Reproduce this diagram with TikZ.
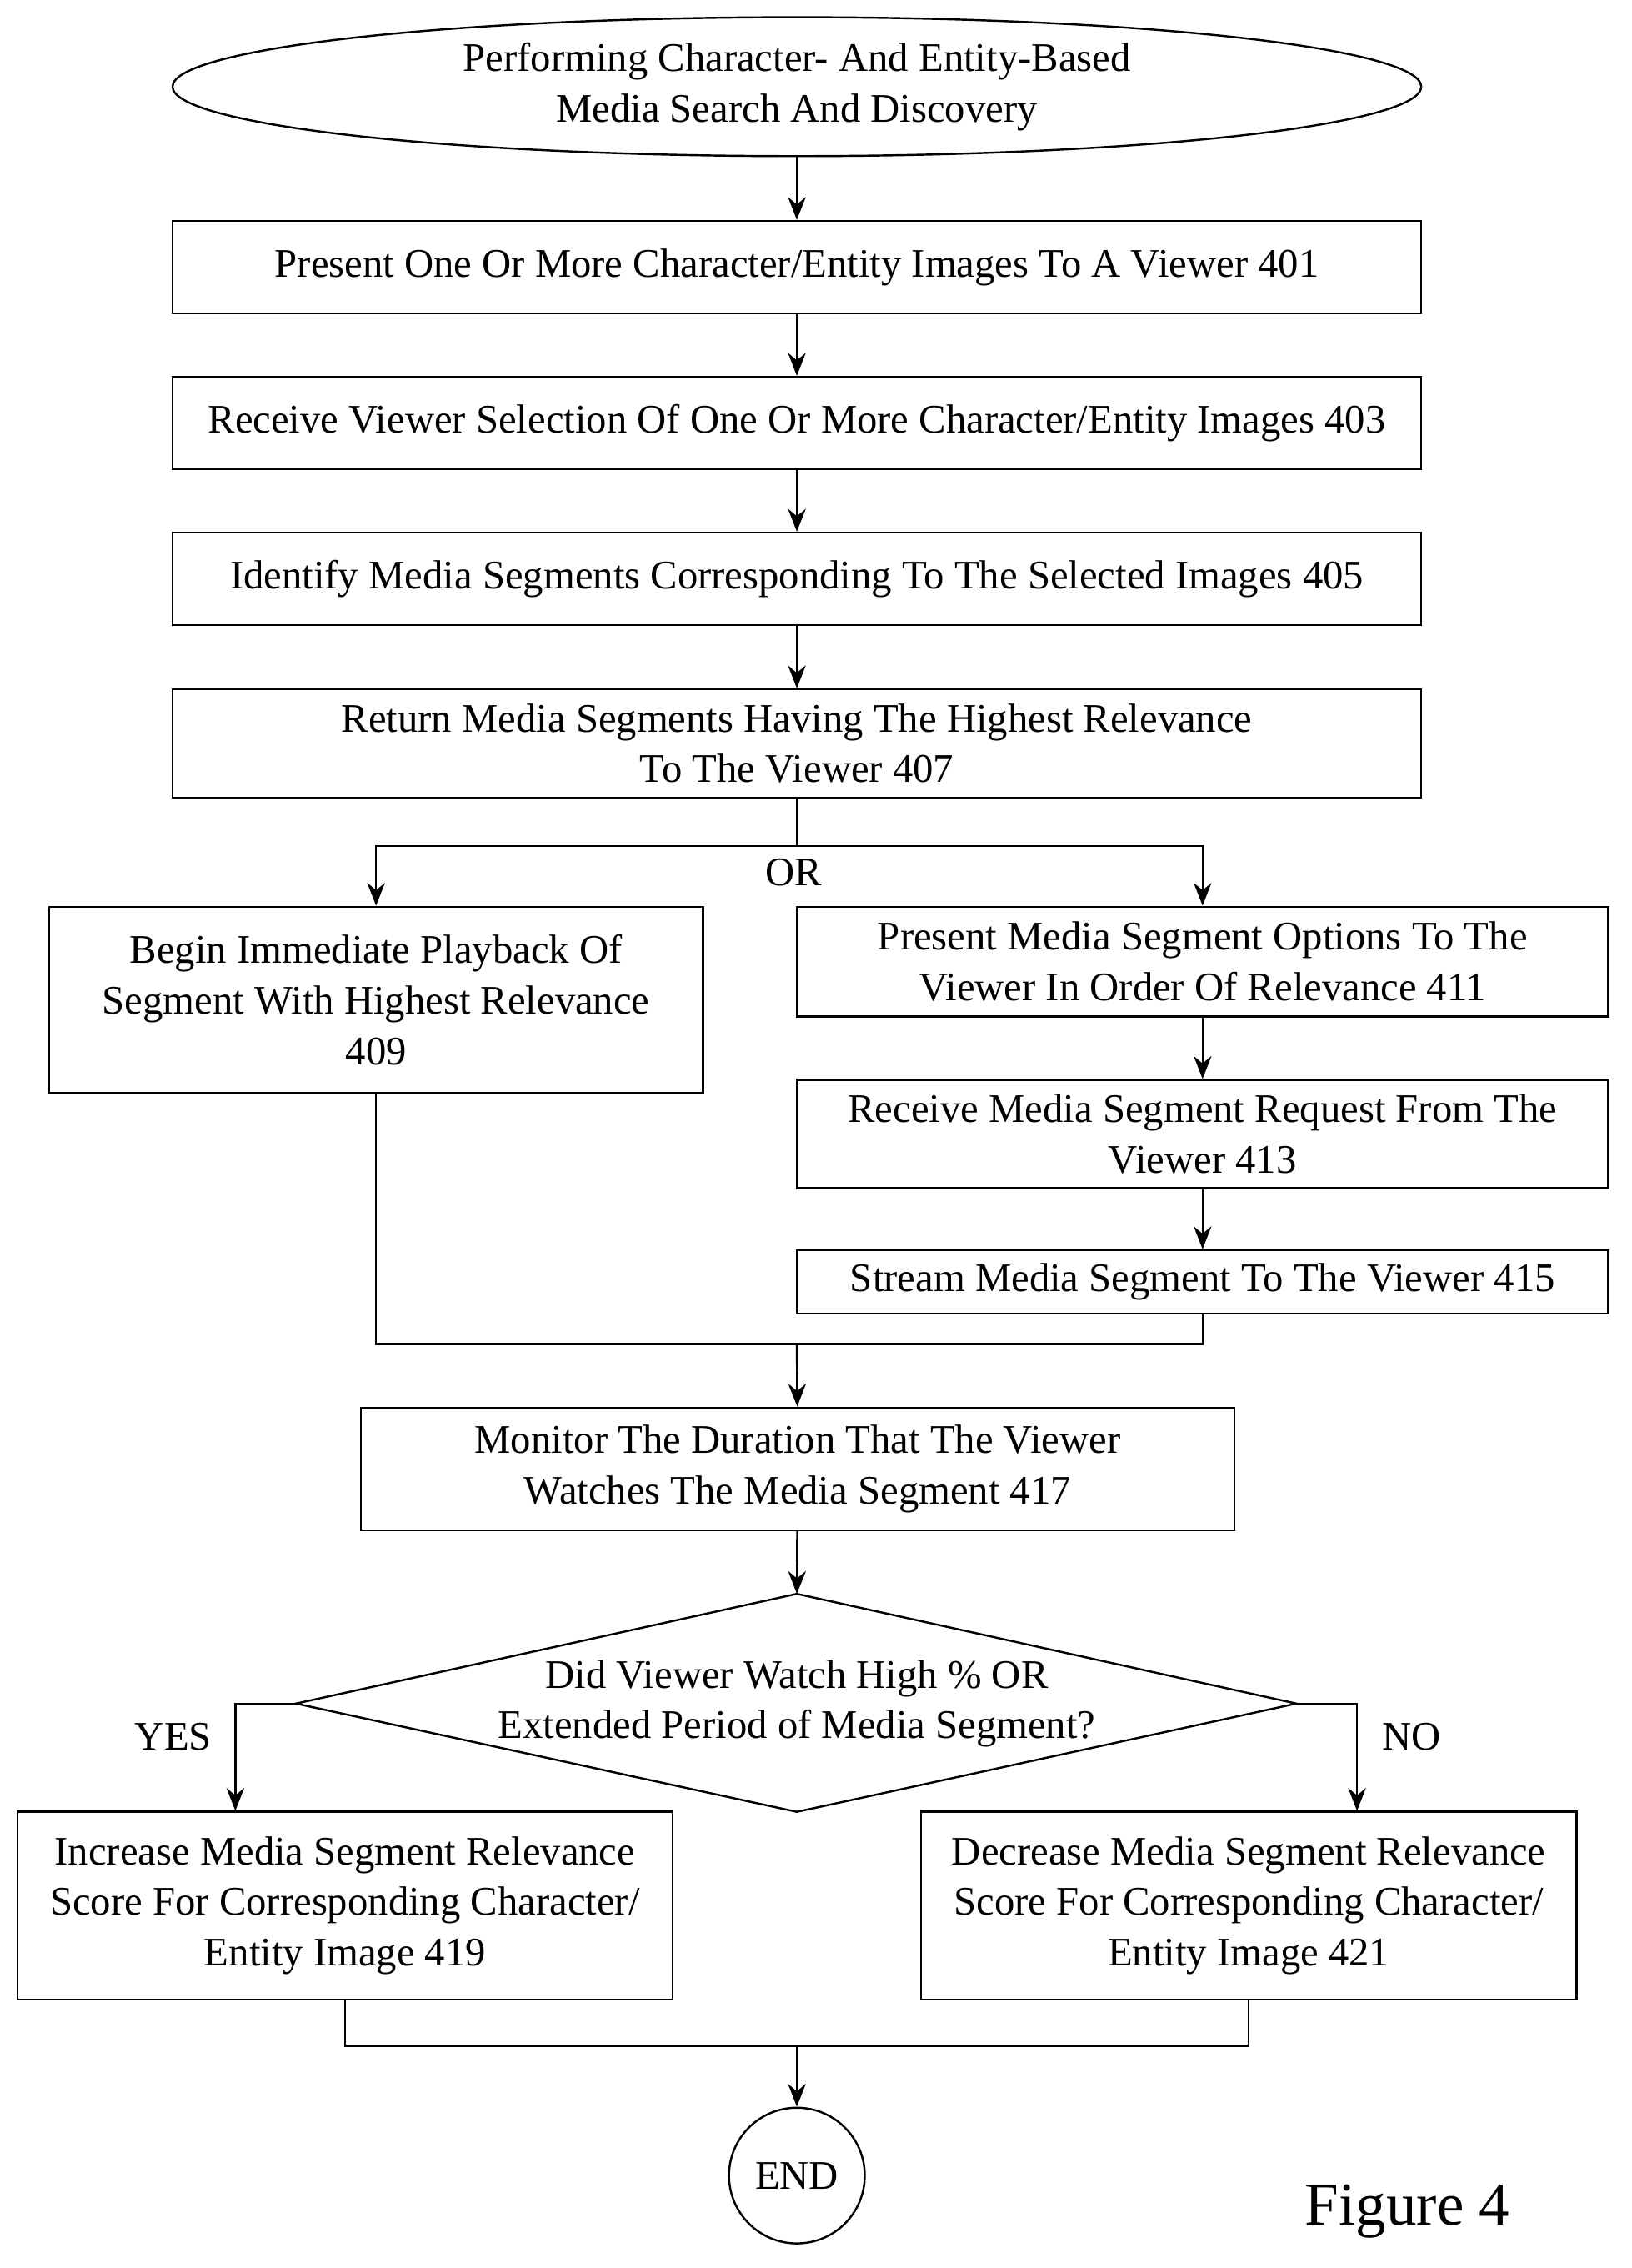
\documentclass[tikz,border=0pt]{standalone}
\usepackage{fontspec}
\setmainfont{Liberation Serif}
\usetikzlibrary{arrows.meta,shapes.geometric}

\tikzset{
  box/.style={draw, thick, align=center, inner sep=2pt},
  flow/.style={thick, -{Stealth[length=9pt,width=7pt]}},
  link/.style={thick}
}

\begin{document}
\begin{tikzpicture}[x=0.2mm,y=-0.2mm, font=\fontsize{16}{20}\selectfont]
      \useasboundingbox (0,0) rectangle (1130,1571);
      \node[box, ellipse, minimum width=17.3cm, minimum height=1.4cm] (start) at (552,60)
        {Performing Character- And Entity-Based\\Media Search And Discovery};
      \node[box, minimum width=17.3cm, minimum height=1.28cm] (s401) at (552,185)
        {Present One Or More Character/Entity Images To A Viewer 401};
      \node[box, minimum width=17.3cm, minimum height=1.28cm] (s403) at (552,293)
        {Receive Viewer Selection Of One Or More Character/Entity Images 403};
      \node[box, minimum width=17.3cm, minimum height=1.28cm] (s405) at (552,401)
        {Identify Media Segments Corresponding To The Selected Images 405};
      \node[box, minimum width=17.3cm, minimum height=1.5cm] (s407) at (552,515)
        {Return Media Segments Having The Highest Relevance\\To The Viewer 407};
      \node (or) at (550,604) {OR};

      \node[box, minimum width=9.06cm, minimum height=2.58cm] (s409) at (260.5,692.5)
        {Begin Immediate Playback Of\\Segment With Highest Relevance\\409};
      \node[box, minimum width=11.24cm, minimum height=1.52cm] (s411) at (833,666)
        {Present Media Segment Options To The\\Viewer In Order Of Relevance 411};
      \node[box, minimum width=11.24cm, minimum height=1.5cm] (s413) at (833,785.5)
        {Receive Media Segment Request From The\\Viewer 413};
      \node[box, minimum width=11.24cm, minimum height=0.88cm] (s415) at (833,888)
        {Stream Media Segment To The Viewer 415};
      \node[box, minimum width=12.1cm, minimum height=1.7cm] (s417) at (552.5,1017.5)
        {Monitor The Duration That The Viewer\\Watches The Media Segment 417};

      % decision
      \coordinate (dt) at (552,1104);
      \coordinate (dl) at (205,1180);
      \coordinate (db) at (552,1255);
      \coordinate (dr) at (898,1180);
      \draw[thick] (dt) -- (dr) -- (db) -- (dl) -- cycle;
      \node[align=center] (q) at (552,1180)
        {Did Viewer Watch High \% OR\\Extended Period of Media Segment?};
      \node (yes) at (120,1203) {YES};
      \node (no) at (978,1203) {NO};

      \node[box, minimum width=9.08cm, minimum height=2.6cm] (s419) at (239,1320)
        {Increase Media Segment Relevance\\Score For Corresponding Character/\\Entity Image 419};
      \node[box, minimum width=9.08cm, minimum height=2.6cm] (s421) at (865,1320)
        {Decrease Media Segment Relevance\\Score For Corresponding Character/\\Entity Image 421};
      \node[box, circle, minimum size=1.88cm, inner sep=0pt] (end) at (552,1507) {END};
      \node[font=\fontsize{24}{28}\selectfont] (fig) at (975,1532) {Figure 4};

      % connectors
      \draw[flow] (start) -- (s401);
      \draw[flow] (s401) -- (s403);
      \draw[flow] (s403) -- (s405);
      \draw[flow] (s405) -- (s407);
      \coordinate (split) at (552,586);
      \draw[link] (s407) -- (split);
      \draw[flow] (split) -| (s409);
      \draw[flow] (split) -| (s411);
      \draw[flow] (s411) -- (s413);
      \draw[flow] (s413) -- (s415);
      \coordinate (merge) at (552,931);
      \draw[link] (s409) |- (merge);
      \draw[link] (s415) |- (merge);
      \draw[flow] (merge) -- (s417);
      \draw[flow] (s417) -- (dt);
      \draw[flow] (dl) -| (s419.north -| 163,0);
      \draw[flow] (dr) -| (s421.north -| 940,0);
      \coordinate (join) at (552,1417);
      \draw[link] (s419) |- (join);
      \draw[link] (s421) |- (join);
      \draw[flow] (join) -- (end);
\end{tikzpicture}
\end{document}
